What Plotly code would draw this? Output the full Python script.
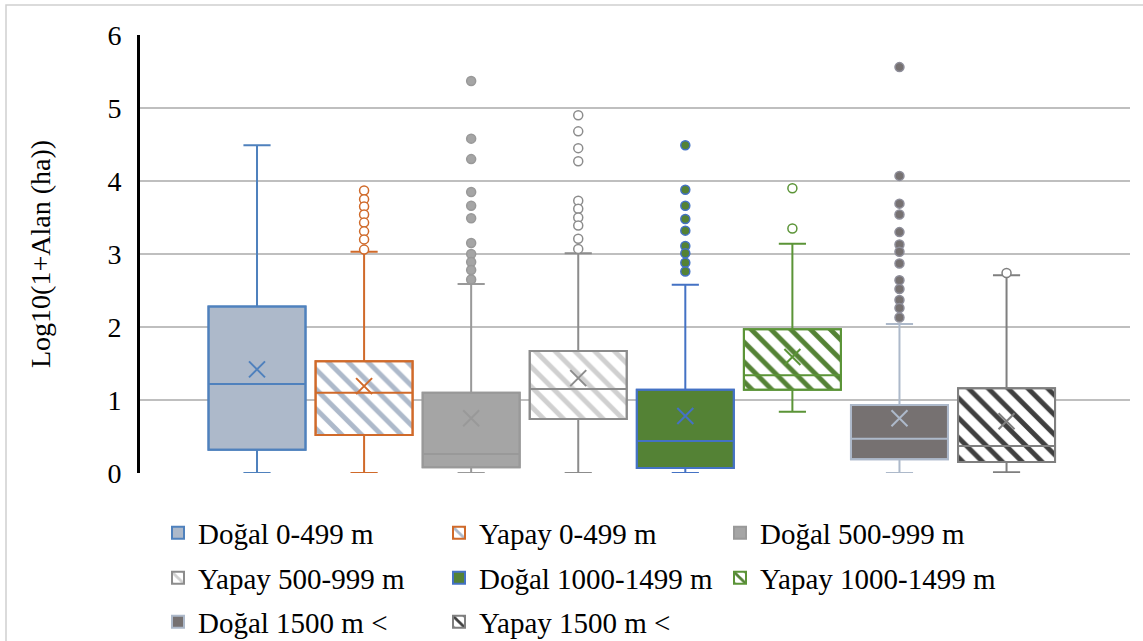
import plotly.graph_objects as go

# ---------------- data ----------------
names = ["Doğal 0-499 m", "Yapay 0-499 m", "Doğal 500-999 m",
         "Yapay 500-999 m", "Doğal 1000-1499 m", "Yapay 1000-1499 m",
         "Doğal 1500 m <", "Yapay 1500 m <"]
q1 = [0.32, 0.52, 0.08, 0.74, 0.07, 1.14, 0.19, 0.15]
median = [1.22, 1.10, 0.26, 1.15, 0.44, 1.34, 0.47, 0.37]
q3 = [2.28, 1.53, 1.10, 1.67, 1.14, 1.97, 0.93, 1.16]
lowerfence = [0.00, 0.00, 0.00, 0.00, 0.00, 0.84, 0.00, 0.01]
upperfence = [4.49, 3.03, 2.59, 3.01, 2.58, 3.14, 2.04, 2.71]
means = [1.42, 1.19, 0.75, 1.30, 0.78, 1.59, 0.75, 0.71]
outliers = [
    [],
    [3.87, 3.75, 3.65, 3.54, 3.43, 3.31, 3.20, 3.06],
    [5.37, 4.58, 4.30, 3.85, 3.66, 3.49, 3.15, 3.00, 2.89, 2.78, 2.65],
    [4.90, 4.68, 4.45, 4.27, 3.73, 3.62, 3.50, 3.39, 3.21, 3.07],
    [4.49, 3.88, 3.66, 3.48, 3.32, 3.11, 3.01, 2.88, 2.76],
    [3.90, 3.35],
    [5.56, 4.07, 3.69, 3.54, 3.30, 3.13, 3.03, 2.87, 2.64, 2.52, 2.37, 2.26, 2.13],
    [2.74],
]
y_ticks = [0, 1, 2, 3, 4, 5, 6]
y_title = "Log10(1+Alan (ha))"

# ---------------- styles ----------------
positions = [1, 2, 3, 4, 5, 6, 7, 8]
box_w = 0.906
line_col = ["#4F81BD", "#D06A2A", "#999999", "#8C8C8C",
            "#4472C4", "#5B9437", "#ADB9CA", "#7F7F7F"]
fill_col = ["#ADB9CA", "white", "#A5A5A5", "white",
            "#548235", "white", "#767171", "white"]
stripe_col = [None, "#ADB9CA", None, "#D0D0D0",
              None, "#548235", None, "#3F3F3F"]
out_fill = [None, "white", "#A5A5A5", "white", "#548235", "white", "#767171", "white"]
out_line = [None, "#D06A2A", "#999999", "#8C8C8C", "#4472C4", "#5B9437", "#8E8E9A", "#7F7F7F"]
legend_of = ["legend", "legend", "legend", "legend2", "legend2", "legend2", "legend3", "legend3"]

FONT = "Liberation Serif, Times New Roman, serif"
H = 641

fig = go.Figure()

# fills (bars) with legend entries
for i, n in enumerate(names):
    if stripe_col[i]:
        pattern = dict(shape="\\", fgcolor=stripe_col[i], bgcolor="white",
                       size=14, solidity=0.35, fillmode="replace")
    else:
        pattern = dict(shape="")
    fig.add_trace(go.Bar(
        x=[positions[i]], y=[q3[i] - q1[i]], base=[q1[i]], width=box_w,
        name=n, legend=legend_of[i],
        marker=dict(color=fill_col[i], line=dict(color=line_col[i], width=2),
                    pattern=pattern),
        hoverinfo="skip"))

# box outlines, medians, whiskers
for i, n in enumerate(names):
    fig.add_trace(go.Box(
        x=[positions[i]], q1=[q1[i]], median=[median[i]], q3=[q3[i]],
        lowerfence=[lowerfence[i]], upperfence=[upperfence[i]],
        width=box_w, whiskerwidth=0.28,
        fillcolor="rgba(0,0,0,0)", line=dict(color=line_col[i], width=2),
        showlegend=False, hoverinfo="skip"))

# means
for i, n in enumerate(names):
    fig.add_trace(go.Scatter(
        x=[positions[i]], y=[means[i]], mode="markers",
        marker=dict(symbol="x-thin", size=16,
                    line=dict(color=line_col[i], width=2)),
        showlegend=False, hoverinfo="skip"))

# outliers
for i, n in enumerate(names):
    if not outliers[i]:
        continue
    fig.add_trace(go.Scatter(
        x=[positions[i]] * len(outliers[i]), y=outliers[i], mode="markers",
        marker=dict(symbol="circle", size=9, color=out_fill[i],
                    line=dict(color=out_line[i], width=1.5)),
        showlegend=False, hoverinfo="skip"))

leg_common = dict(orientation="h", xanchor="left", yanchor="middle",
                  xref="container", yref="container",
                  x=158 / 1143, entrywidth=236, entrywidthmode="pixels",
                  font=dict(family=FONT, size=29, color="black"),
                  bgcolor="rgba(0,0,0,0)")

fig.update_layout(
    width=1143, height=H,
    margin=dict(l=140, r=13, t=35, b=168, autoexpand=False),
    paper_bgcolor="white", plot_bgcolor="white",
    font=dict(family=FONT, size=28, color="black"),
    barmode="overlay", boxmode="overlay",
    xaxis=dict(range=[-0.0928, 9.153], showgrid=False, zeroline=False,
               showticklabels=False, showline=False, ticks=""),
    yaxis=dict(range=[0, 6], tickvals=y_ticks, showgrid=True,
               gridcolor="#BFBFBF", gridwidth=1.5, zeroline=False,
               showline=True, linecolor="black", linewidth=3,
               ticks="", ticklabelstandoff=10,
               tickfont=dict(family=FONT, size=28, color="black")),
    legend=dict(**leg_common, y=(H - 533) / H),
    legend2=dict(**leg_common, y=(H - 578) / H),
    legend3=dict(**leg_common, y=(H - 622) / H),
    annotations=[dict(text=y_title, xref="paper", yref="paper",
                      x=(40 - 140) / 990, y=0.5, textangle=-90,
                      showarrow=False, xanchor="center", yanchor="middle",
                      font=dict(family=FONT, size=28, color="black"))],
    shapes=[dict(type="rect", xref="paper", yref="paper",
                 x0=(6 - 140) / 990, x1=1.2, y0=-1, y1=(473 - 5) / 438,
                 line=dict(color="#D0D0D0", width=1.5), layer="below")],
)

fig.write_html("out.html")
